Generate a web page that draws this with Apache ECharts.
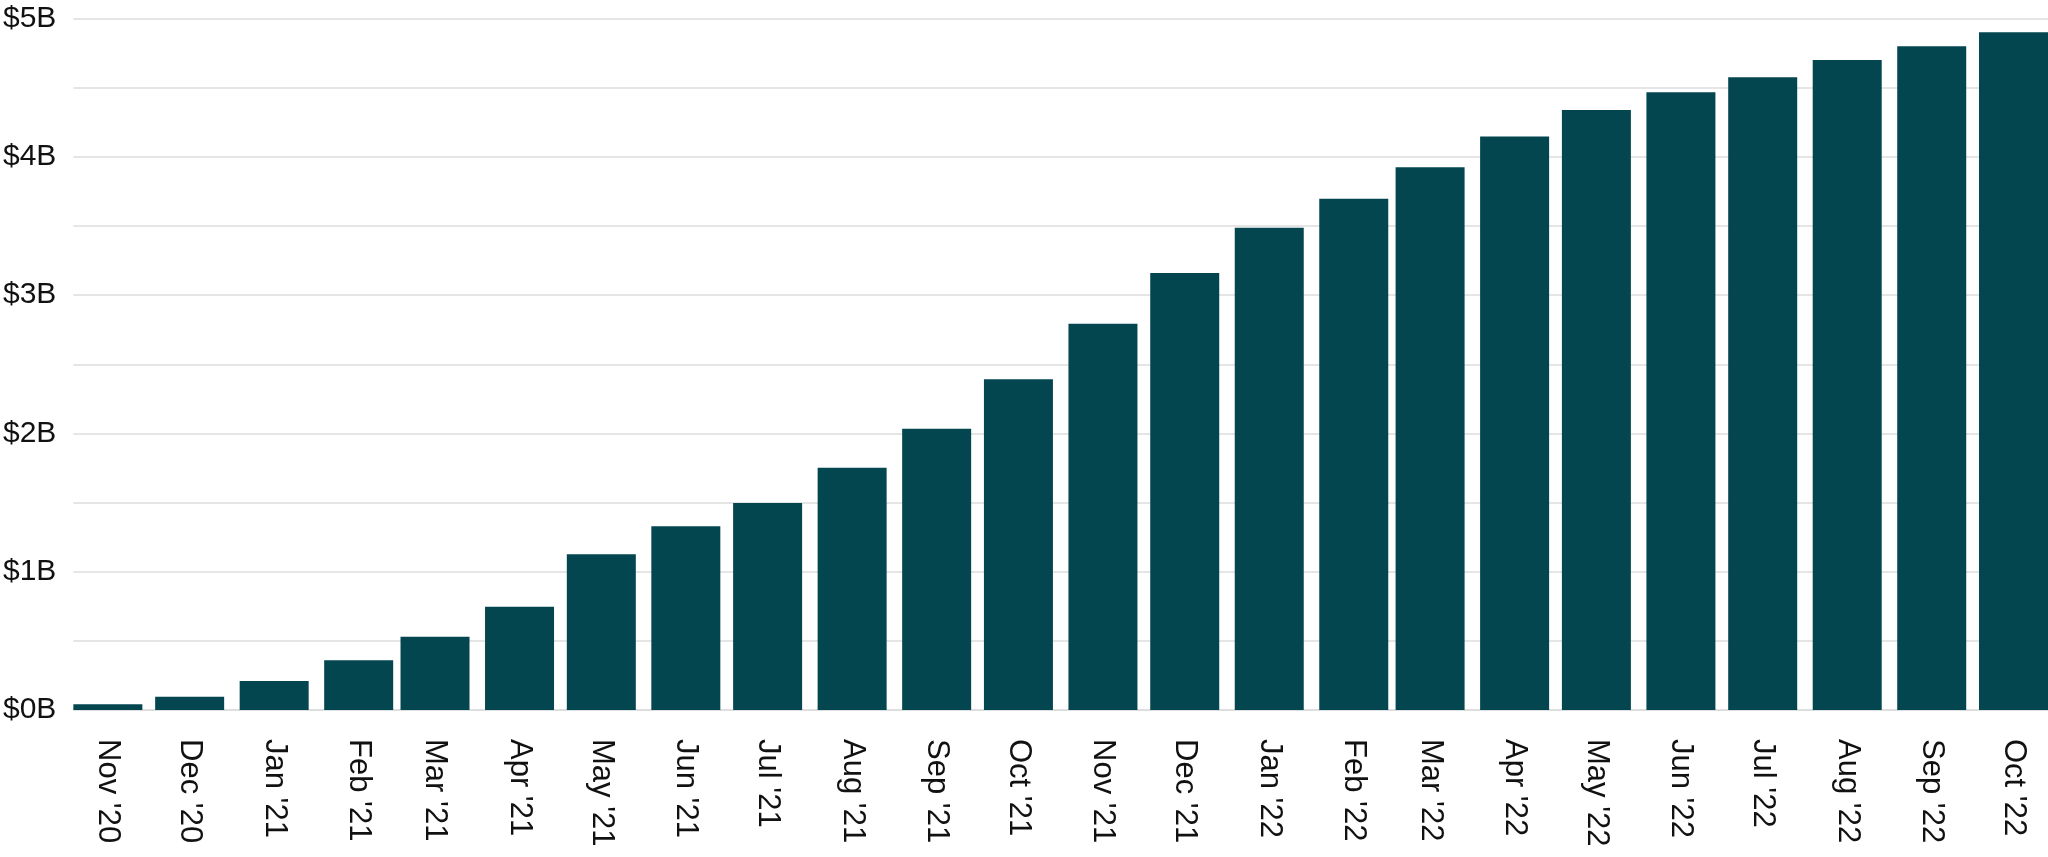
<!DOCTYPE html>
<html>
<head>
<meta charset="utf-8">
<script src="https://cdn.jsdelivr.net/npm/echarts@6/dist/echarts.min.js"></script>
<style>
  html, body { margin: 0; padding: 0; background: #ffffff; }
  #chart { width: 2048px; height: 857px; }
</style>
</head>
<body>
<div id="chart"></div>
<script>
// Month dates (first day of month, UTC) for each bar
const months = [
  '2020-11-01', '2020-12-01', '2021-01-01', '2021-02-01', '2021-03-01', '2021-04-01',
  '2021-05-01', '2021-06-01', '2021-07-01', '2021-08-01', '2021-09-01', '2021-10-01',
  '2021-11-01', '2021-12-01', '2022-01-01', '2022-02-01', '2022-03-01', '2022-04-01',
  '2022-05-01', '2022-06-01', '2022-07-01', '2022-08-01', '2022-09-01', '2022-10-01'
];
// Tick labels shown under the bars
const monthLabels = [
  "Nov '20", "Dec '20", "Jan '21", "Feb '21", "Mar '21", "Apr '21",
  "May '21", "Jun '21", "Jul '21", "Aug '21", "Sep '21", "Oct '21",
  "Nov '21", "Dec '21", "Jan '22", "Feb '22", "Mar '22", "Apr '22",
  "May '22", "Jun '22", "Jul '22", "Aug '22", "Sep '22", "Oct '22"
];
// Cumulative value in billions of dollars
const valuesB = [
  0.041, 0.096, 0.21, 0.36, 0.53, 0.747,
  1.126, 1.328, 1.497, 1.752, 2.034, 2.391,
  2.793, 3.160, 3.487, 3.697, 3.924, 4.146,
  4.338, 4.466, 4.575, 4.70, 4.80, 4.90
];
// Y-axis tick values
const yTicks = [0, 1, 2, 3, 4, 5];

const DAY = 86400000;
// day numbers (days since epoch) for a linear date scale
const dayNums = months.map(d => Date.parse(d + 'T00:00:00Z') / DAY);
const labelByDay = {};
dayNums.forEach((t, i) => { labelByDay[t] = monthLabels[i]; });
const padDays = 12.65;

const chart = echarts.init(document.getElementById('chart'), null, { renderer: 'canvas' });
chart.setOption({
  animation: false,
  backgroundColor: '#ffffff',
  grid: { left: 73, right: 0, top: 18.5, bottom: 147, containLabel: false },
  xAxis: {
    type: 'value',
    min: dayNums[0] - padDays,
    max: dayNums[dayNums.length - 1] + padDays,
    axisLine: { show: true, lineStyle: { color: '#dcdcdc', width: 1.5 } },
    axisTick: { show: false },
    splitLine: { show: false },
    axisLabel: {
      customValues: dayNums,
      rotate: -90,
      margin: 29,
      padding: [0, 0, 26, 0],
      hideOverlap: false,
      showMinLabel: true,
      showMaxLabel: true,
      fontFamily: 'Liberation Sans, Arial, Helvetica, sans-serif',
      fontSize: 31,
      color: '#111111',
      formatter: function (v) { return labelByDay[v] || ''; }
    }
  },
  yAxis: {
    type: 'value',
    min: 0,
    max: 5,
    interval: 0.5,
    axisLine: { show: false },
    axisTick: { show: false },
    splitLine: { show: true, lineStyle: { color: '#dcdcdc', width: 1.5 } },
    axisLabel: {
      margin: 17,
      fontFamily: 'Liberation Sans, Arial, Helvetica, sans-serif',
      fontSize: 30,
      color: '#111111',
      formatter: function (v) {
        return yTicks.indexOf(v) >= 0 ? '$' + v + 'B' : '';
      }
    }
  },
  series: [{
    type: 'bar',
    barWidth: 69,
    itemStyle: { color: '#03464f' },
    data: dayNums.map((t, i) => [t, valuesB[i]])
  }]
});
</script>
</body>
</html>
